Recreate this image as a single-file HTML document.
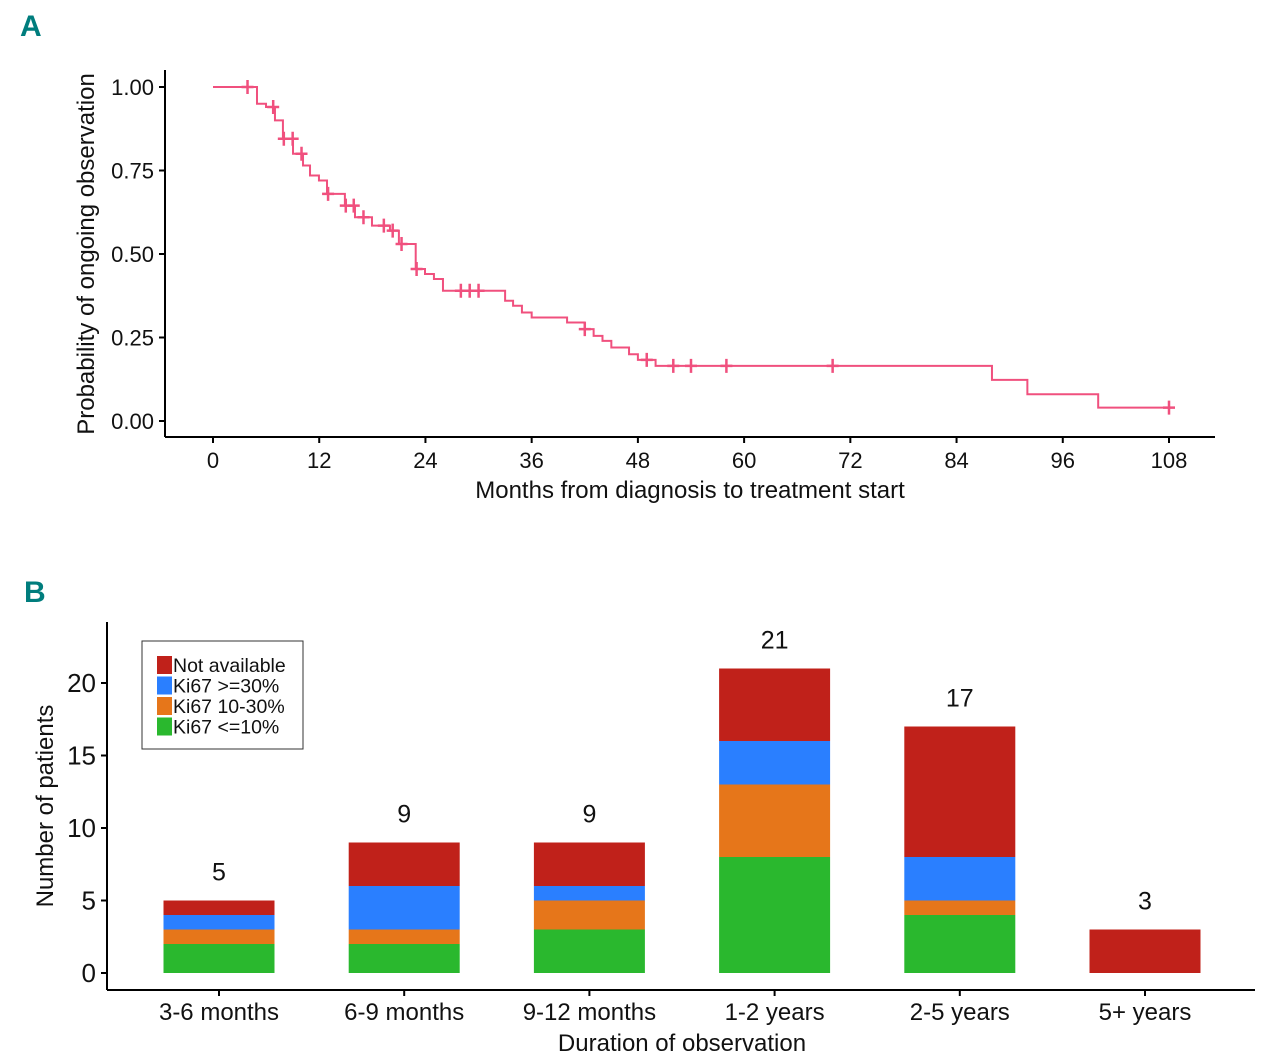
<!DOCTYPE html>
<html><head><meta charset="utf-8"><style>
html,body{margin:0;padding:0;background:#fff;}
svg{display:block;font-family:"Liberation Sans",sans-serif;}
</style></head><body>
<svg id="svg" width="1280" height="1063" viewBox="0 0 1280 1063">
<text x="20" y="36" font-size="30" font-weight="bold" fill="#007d7d" font-family="Liberation Sans Narrow, Liberation Sans, sans-serif">A</text>
<text x="24" y="602" font-size="30" font-weight="bold" fill="#007d7d" font-family="Liberation Sans Narrow, Liberation Sans, sans-serif">B</text>
<g id="pa"></g>
<g id="pb"></g>
</svg>
<script>
// ---- Panel A data ----
const kmTimes = [0,4.97,5.99,7.0,7.9,9.04,10.17,10.96,11.97,12.88,14.9,16.04,17.96,19.99,21.0,22.9,23.95,24.96,25.98,33.0,33.9,34.9,36.0,40.0,42.0,43.0,44.0,45.0,47.0,48.0,50.0,88.0,92.0,100.0];
const kmSurv  = [1.0,0.95,0.94,0.90,0.845,0.80,0.765,0.735,0.72,0.68,0.645,0.61,0.585,0.57,0.53,0.455,0.44,0.425,0.39,0.36,0.345,0.325,0.31,0.295,0.275,0.255,0.24,0.22,0.20,0.183,0.165,0.123,0.08,0.04];
const kmEnd = 108;
const censorTimes = [3.9,6.8,8.0,9.0,10.0,13.0,15.0,15.9,17.0,19.3,20.3,21.3,23.0,28.0,29.0,30.0,42.0,49.0,52.0,54.0,58.0,70.0,108.0];
const xTicksA = [0,12,24,36,48,60,72,84,96,108];
const yTicksA = [0,0.25,0.5,0.75,1.0];
const yTickLabA = ["0.00","0.25","0.50","0.75","1.00"];
// ---- Panel B data ----
const cats = ["3-6 months","6-9 months","9-12 months","1-2 years","2-5 years","5+ years"];
const green = [2,2,3,8,4,0];
const orange = [1,1,2,5,1,0];
const blue = [1,3,1,3,3,0];
const red = [1,3,3,5,9,3];
const yTicksB = [0,5,10,15,20];
const seriesNames = ["Not available","Ki67 >=30%","Ki67 10-30%","Ki67 <=10%"];

const NS="http://www.w3.org/2000/svg";
function mk(parent,tag,attrs,text){const e=document.createElementNS(NS,tag);for(const k in attrs)e.setAttribute(k,attrs[k]);if(text!==undefined)e.textContent=text;parent.appendChild(e);return e;}

// Panel A
const pa=document.getElementById('pa');
const xA=m=>213+m*(1169-213)/108;
const yA=s=>421-s*(421-87);
let l=mk(pa,'line',{x1:165,y1:437,x2:1215,y2:437,stroke:'#000','stroke-width':2});

l=mk(pa,'line',{x1:165,y1:70,x2:165,y2:437,stroke:'#000','stroke-width':2});

xTicksA.forEach(t=>{
  let tk=mk(pa,'line',{x1:xA(t),y1:437,x2:xA(t),y2:443,stroke:'#000','stroke-width':2});
  
  let tx=mk(pa,'text',{x:xA(t),y:468,'font-size':22,'text-anchor':'middle',fill:'#111'},String(t));
  
});
yTicksA.forEach((t,i)=>{
  let tk=mk(pa,'line',{x1:159,y1:yA(t),x2:165,y2:yA(t),stroke:'#000','stroke-width':2});
  
  let tx=mk(pa,'text',{x:154,y:yA(t)+8,'font-size':22,'text-anchor':'end',fill:'#111'},yTickLabA[i]);
  
});
let t=mk(pa,'text',{x:690,y:498,'font-size':24,'text-anchor':'middle',fill:'#111'},'Months from diagnosis to treatment start');

t=mk(pa,'text',{x:0,y:0,'font-size':24,'text-anchor':'middle',fill:'#111',transform:'translate(94,254) rotate(-90)'},'Probability of ongoing observation');

let d='M'+xA(kmTimes[0])+','+yA(kmSurv[0]);
for(let i=1;i<kmTimes.length;i++){d+=' H'+xA(kmTimes[i])+' V'+yA(kmSurv[i]);}
d+=' H'+xA(kmEnd);
let p=mk(pa,'path',{d:d,fill:'none',stroke:'#f0507e','stroke-width':2});

function survAt(m){let s=kmSurv[0];for(let i=0;i<kmTimes.length;i++){if(kmTimes[i]<=m)s=kmSurv[i];}return s;}
censorTimes.forEach(c=>{
  const cx=xA(c),cy=yA(survAt(c));
  let g=mk(pa,'path',{d:`M${cx-6},${cy} H${cx+6} M${cx},${cy-7} V${cy+7}`,stroke:'#f0507e','stroke-width':2.5,fill:'none'});
  
});

// Panel B
const pb=document.getElementById('pb');
const yB=v=>973-v*(973-683)/20;
const xB=i=>219+i*185.2;
const bw=111;
l=mk(pb,'line',{x1:107,y1:990,x2:1255,y2:990,stroke:'#000','stroke-width':2});

l=mk(pb,'line',{x1:107,y1:622,x2:107,y2:990,stroke:'#000','stroke-width':2});

yTicksB.forEach(v=>{
  let tk=mk(pb,'line',{x1:101,y1:yB(v),x2:107,y2:yB(v),stroke:'#000','stroke-width':2});
  
  let tx=mk(pb,'text',{x:96,y:yB(v)+9,'font-size':26,'text-anchor':'end',fill:'#111'},String(v));
  
});
const series=[[green,'#2ab82e','ki67-low'],[orange,'#e6761a','ki67-mid'],[blue,'#2a7fff','ki67-high'],[red,'#c0211a','not-available']];
cats.forEach((c,i)=>{
  let base=0;
  series.forEach(s=>{
    const v=s[0][i];
    if(v>0){
      let r=mk(pb,'rect',{x:xB(i)-bw/2,y:yB(base+v),width:bw,height:yB(base)-yB(base+v),fill:s[1]});
      
    }
    base+=v;
  });
  let tx=mk(pb,'text',{x:xB(i),y:yB(base)-20,'font-size':25,'text-anchor':'middle',fill:'#111'},String(base));
  
  let tk=mk(pb,'line',{x1:xB(i),y1:990,x2:xB(i),y2:996,stroke:'#000','stroke-width':2});
  
  let cl=mk(pb,'text',{x:xB(i),y:1020,'font-size':24,'text-anchor':'middle',fill:'#111'},c);
  
});
t=mk(pb,'text',{x:682,y:1051,'font-size':24,'text-anchor':'middle',fill:'#111'},'Duration of observation');

t=mk(pb,'text',{x:0,y:0,'font-size':24,'text-anchor':'middle',fill:'#111',transform:'translate(53,806) rotate(-90)'},'Number of patients');

let lg=mk(pb,'rect',{x:142,y:641,width:161,height:108,fill:'#fff',stroke:'#333','stroke-width':1});

const legCols=['#c0211a','#2a7fff','#e6761a','#2ab82e'];
seriesNames.forEach((n,i)=>{
  const cy=665+i*20.5;
  let sw=mk(pb,'rect',{x:157,y:cy-9,width:15,height:18,fill:legCols[i]});
  
  let tx=mk(pb,'text',{x:173,y:cy+7,'font-size':19.5,fill:'#111'},n);
  
});
</script>
</body></html>
